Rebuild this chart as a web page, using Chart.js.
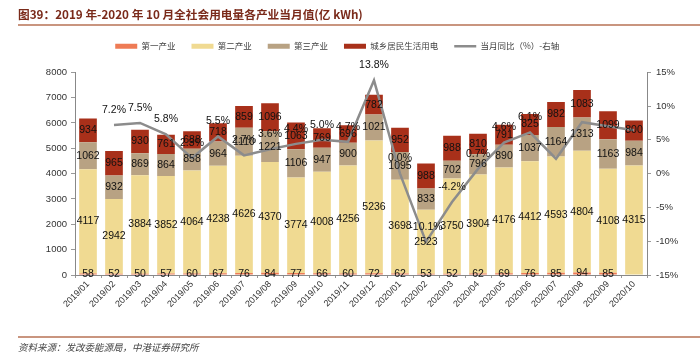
<!DOCTYPE html>
<html><head><meta charset="utf-8">
<script src="https://cdn.jsdelivr.net/npm/chart.js@4"></script>
<style>
html,body{margin:0;padding:0;background:#fff;}
#wrap{position:relative;width:700px;height:356px;overflow:hidden;font-family:"Noto Sans CJK SC",sans-serif;}
#title{position:absolute;left:18px;top:6px;font-size:11.7px;line-height:16px;font-weight:bold;color:#7A2A1A;white-space:nowrap;}
#tline{position:absolute;left:18px;right:0;top:24px;height:1.5px;background:#C9957F;}
#bline{position:absolute;left:18px;right:0;top:336px;height:1.5px;background:#C9957F;}
#src{position:absolute;left:18px;top:340px;font-size:9.5px;line-height:14px;font-style:italic;color:#444;white-space:nowrap;}
#cv{position:absolute;left:0;top:0;}
</style></head>
<body>
<div id="wrap">
  <canvas id="cv" width="700" height="356"></canvas>
  <div id="title">图39：2019 年-2020 年 10 月全社会用电量各产业当月值(亿 kWh)</div>
  <div id="tline"></div>
  <div id="bline"></div>
  <div id="src">资料来源：发改委能源局，中港证券研究所</div>
</div>
<script>
const categories = ['2019/01','2019/02','2019/03','2019/04','2019/05','2019/06','2019/07','2019/08','2019/09','2019/10','2019/11','2019/12',
  '2020/01','2020/02','2020/03','2020/04','2020/05','2020/06','2020/07','2020/08','2020/09','2020/10'];
const primary     = [58,52,50,57,60,67,76,84,77,66,60,72,62,53,52,62,69,76,85,94,85,null];
const secondary   = [4117,2942,3884,3852,4064,4238,4626,4370,3774,4008,4256,5236,3698,2523,3750,3904,4176,4412,4593,4804,4108,4315];
const tertiary    = [1062,932,869,864,858,964,1110,1221,1106,947,900,1021,1095,833,702,796,890,1037,1164,1313,1163,984];
const residential = [934,965,930,761,688,718,859,1096,1063,769,696,782,952,988,988,810,791,825,982,1083,1099,800];
const yoy         = [null,7.2,7.5,5.8,2.3,5.5,2.7,3.6,4.4,5.0,4.7,13.8,0.0,-10.1,-4.2,0.7,4.6,6.1,2.2,7.6,7.0,6.4];
const yoyLabels   = ['','7.2%','7.5%','5.8%','2.3%','5.5%','2.7%','3.6%','4.4%','5.0%','4.7%','13.8%','0.0%','-10.1%','-4.2%','0.7%','4.6%','6.1%','','','',''];
const leftTicks = {min:0, max:8000, step:1000};
const rightTicks = {min:-15, max:15, step:5};

const valueLabels = {
  id: 'valueLabels',
  afterDatasetsDraw(chart) {
    const ctx = chart.ctx;
    ctx.save();
    ctx.font = '10.5px "Liberation Sans", Arial, sans-serif';
    ctx.fillStyle = '#111';
    ctx.textAlign = 'center';
    ctx.textBaseline = 'middle';
    chart.data.datasets.forEach((ds, di) => {
      const meta = chart.getDatasetMeta(di);
      meta.data.forEach((el, i) => {
        const v = ds.data[i];
        if (v === null || v === undefined) return;
        if (ds.type === 'line') {
          const t = yoyLabels[i];
          if (t) ctx.fillText(t, el.x, el.y - 15);
        } else {
          ctx.fillText(String(v), el.x, (el.y + el.base) / 2);
        }
      });
    });
    ctx.restore();
  }
};

const tickFont = {family: '"Liberation Sans", Arial, sans-serif', size: 9.5};
new Chart(document.getElementById('cv'), {
  type: 'bar',
  data: {
    labels: categories,
    datasets: [
      {label:'第一产业', data: primary, backgroundColor:'#EE7B55', stack:'s', order:1, barPercentage:0.68, categoryPercentage:1},
      {label:'第二产业', data: secondary, backgroundColor:'#F0DA92', stack:'s', order:1, barPercentage:0.68, categoryPercentage:1},
      {label:'第三产业', data: tertiary, backgroundColor:'#B8A283', stack:'s', order:1, barPercentage:0.68, categoryPercentage:1},
      {label:'城乡居民生活用电', data: residential, backgroundColor:'#A8301A', stack:'s', order:1, barPercentage:0.68, categoryPercentage:1},
      {type:'line', label:'当月同比（%）-右轴', data: yoy, yAxisID:'y1', borderColor:'#8C8C8C', backgroundColor:'#8C8C8C',
       borderWidth:2.5, pointRadius:0, tension:0, order:0}
    ]
  },
  options: {
    responsive:false, animation:false,
    layout:{padding:{top:26, left:0, right:0, bottom:0}},
    plugins:{
      tooltip:{enabled:false},
      title:{display:false},
      subtitle:{display:true, text:' ', weight:500, font:{size:1}, padding:{top:0, bottom:10.5}},
      legend:{
        position:'top',
        labels:{
          usePointStyle:true, pointStyleWidth:22, boxHeight:5, padding:16, color:'#404040',
          font:{family:'"Noto Sans CJK SC", sans-serif', size:8.5},
          generateLabels(chart){
            const items = Chart.defaults.plugins.legend.labels.generateLabels(chart);
            items.forEach(it => {
              const ds = chart.data.datasets[it.datasetIndex];
              if (ds.type === 'line') { it.pointStyle='line'; it.strokeStyle=ds.borderColor; it.lineWidth=2.5; it.text += '\u3000\u3000\u3000'; }
              else { it.pointStyle='rect'; it.lineWidth=0; }
            });
            return items.sort((a,b)=>a.datasetIndex-b.datasetIndex);
          }
        }
      }
    },
    scales:{
      x:{
        stacked:true,
        afterFit(s){ s.height = 81; },
        grid:{display:true, drawOnChartArea:false, drawTicks:true, tickLength:3, color:'#999', offset:true},
        border:{display:true, color:'#888', width:1},
        ticks:{autoSkip:false, maxRotation:45, minRotation:45, color:'#333', padding:1, font:{family:'"Liberation Sans", Arial, sans-serif', size:9}}
      },
      y:{
        stacked:true, position:'left', min:leftTicks.min, max:leftTicks.max,
        afterFit(s){ s.width = 75; },
        grid:{display:true, drawOnChartArea:false, drawTicks:true, tickLength:4, color:'#999'},
        border:{display:true, color:'#888', width:1},
        ticks:{stepSize:leftTicks.step, color:'#333', padding:4, font:tickFont, callback:v => String(v)}
      },
      y1:{
        position:'right', min:rightTicks.min, max:rightTicks.max,
        afterFit(s){ s.width = 53; },
        grid:{display:true, drawOnChartArea:false, drawTicks:true, tickLength:4, color:'#999'},
        border:{display:true, color:'#888', width:1},
        ticks:{stepSize:rightTicks.step, color:'#333', padding:5, font:tickFont, callback:v => v + '%'}
      }
    }
  },
  plugins:[valueLabels]
});
</script>
</body></html>
